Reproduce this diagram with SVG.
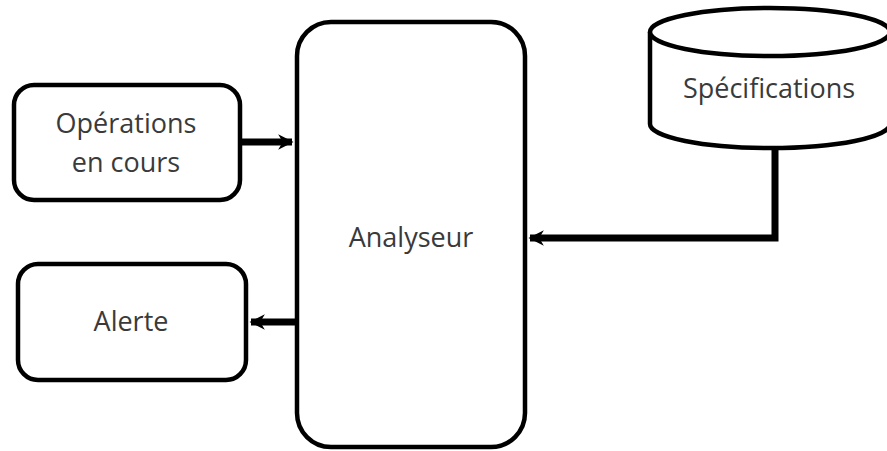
<svg xmlns="http://www.w3.org/2000/svg" width="887" height="451" viewBox="0 0 887 451">
  <style>
    .box { fill: #ffffff; stroke: #000000; stroke-width: 4.5; }
    .lbl { font-family: "Open Sans", "Liberation Sans", sans-serif; font-size: 27px; fill: #3a3a3a; text-anchor: middle; }
    .wire { fill: none; stroke: #000000; stroke-width: 7; }
  </style>
  <defs>
    <marker id="head" viewBox="0 0 10 10" refX="9" refY="5" markerWidth="2.2" markerHeight="2.6" orient="auto" markerUnits="strokeWidth">
      <path d="M0,0 L10,5 L0,10 L3,5 Z" fill="#000000"/>
    </marker>
  </defs>

  <g id="connectors">
    <path class="wire" d="M242,142 L292,142" marker-end="url(#head)"/>
    <path class="wire" d="M297,322 L251,322" marker-end="url(#head)"/>
    <path class="wire" d="M775,148 L775,238 L530,238" marker-end="url(#head)"/>
  </g>

  <g id="operations">
    <rect class="box" x="14" y="85" width="226" height="115" rx="20"/>
    <text class="lbl" x="126" y="133">Opérations</text>
    <text class="lbl" x="126" y="172">en cours</text>
  </g>

  <g id="alerte">
    <rect class="box" x="18" y="264" width="228" height="116" rx="20"/>
    <text class="lbl" x="131" y="331">Alerte</text>
  </g>

  <g id="analyseur">
    <rect class="box" x="297" y="22" width="228" height="425" rx="34"/>
    <text class="lbl" x="411" y="247">Analyseur</text>
  </g>

  <g id="specifications">
    <path class="box" d="M650,32 L650,124 A120,24 0 0 0 890,124 L890,32"/>
    <ellipse class="box" cx="770" cy="32" rx="120" ry="24"/>
    <text class="lbl" x="769" y="98">Spécifications</text>
  </g>
</svg>
